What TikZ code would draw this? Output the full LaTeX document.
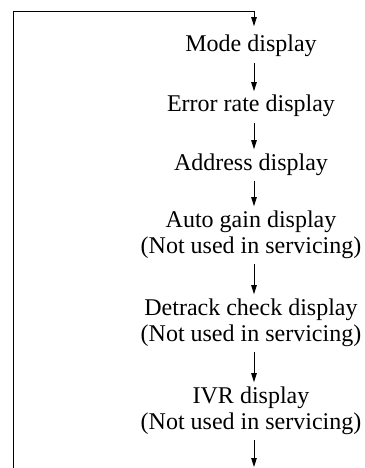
\documentclass[tikz,border=0pt]{standalone}
\usepackage{fontspec}
\setmainfont{Liberation Serif}
\usetikzlibrary{arrows.meta}
\begin{document}
\begin{tikzpicture}[x=1pt,y=-1pt,
  lbl/.style={inner sep=0pt, anchor=base, align=center, font=\fontsize{24}{26}\selectfont},
  flow/.style={line width=0.9pt, -{Triangle[length=9pt,width=5.5pt]}, shorten <=6pt, shorten >=4pt},
  loopline/.style={line width=0.9pt}]
\useasboundingbox (0,0) rectangle (364,468);
\coordinate (ax) at (254,0);
\node[lbl] (mode) at (251,52) {Mode display};
\node[lbl] (err) at (251,112) {Error rate display};
\node[lbl] (addr) at (251,170) {Address display};
\node[lbl] (agc) at (251,253) {Auto gain display\\(Not used in servicing)};
\node[lbl] (det) at (251,341) {Detrack check display\\(Not used in servicing)};
\node[lbl] (ivr) at (251,429) {IVR display\\(Not used in servicing)};
\coordinate (bl) at (13.5,470);
\coordinate (tl) at (13.5,11.5);
\coordinate (tr) at (254,11.5);
\coordinate (end) at (254,467);
\draw[loopline] (bl) -- (tl) -- (tr);
\draw[flow, shorten <=0pt, shorten >=9pt] (tr) -- (mode.north -| ax);
\draw[flow] (mode.south -| ax) -- (err.north -| ax);
\draw[flow] (err.south -| ax) -- (addr.north -| ax);
\draw[flow] (addr.south -| ax) -- (agc.north -| ax);
\draw[flow] (agc.south -| ax) -- (det.north -| ax);
\draw[flow] (det.south -| ax) -- (ivr.north -| ax);
\draw[flow, shorten >=0pt] (ivr.south -| ax) -- (end);
\end{tikzpicture}
\end{document}
